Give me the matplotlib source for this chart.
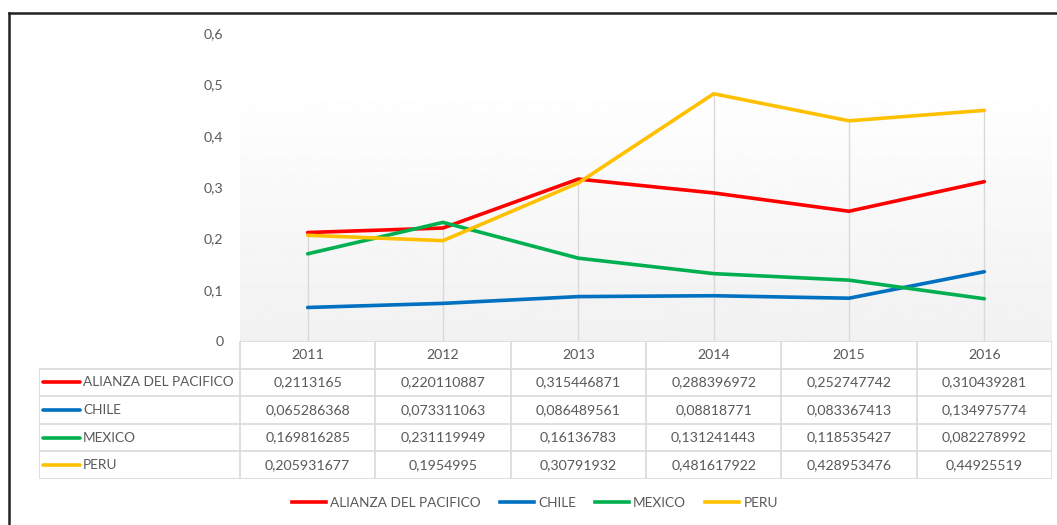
import matplotlib
matplotlib.use("Agg")
import matplotlib.pyplot as plt
from matplotlib.lines import Line2D
from matplotlib.ticker import FuncFormatter
import numpy as np

# ---------- data ----------
YEARS = ["2011", "2012", "2013", "2014", "2015", "2016"]
SERIES = ["ALIANZA DEL PACIFICO", "CHILE", "MEXICO", "PERU"]
ALIANZA = [0.2113165, 0.220110887, 0.315446871, 0.288396972, 0.252747742, 0.310439281]
CHILE = [0.065286368, 0.073311063, 0.086489561, 0.08818771, 0.083367413, 0.134975774]
MEXICO = [0.169816285, 0.231119949, 0.16136783, 0.131241443, 0.118535427, 0.082278992]
PERU = [0.205931677, 0.1954995, 0.30791932, 0.481617922, 0.428953476, 0.44925519]
# cell text exactly as printed in the data table
ALIANZA_TXT = ["0,2113165", "0,220110887", "0,315446871", "0,288396972", "0,252747742", "0,310439281"]
CHILE_TXT = ["0,065286368", "0,073311063", "0,086489561", "0,08818771", "0,083367413", "0,134975774"]
MEXICO_TXT = ["0,169816285", "0,231119949", "0,16136783", "0,131241443", "0,118535427", "0,082278992"]
PERU_TXT = ["0,205931677", "0,1954995", "0,30791932", "0,481617922", "0,428953476", "0,44925519"]

COLORS = ["#ff0000", "#0070c0", "#00b050", "#ffc000"]
TEXT_C = "#595959"
GRID_C = "#d9d9d9"
FS = 9.8

plt.rcParams.update({
    "font.family": ["Lato", "DejaVu Sans"],
    "font.size": FS,
})

W, H = 1057, 525
fig = plt.figure(figsize=(W / 100, H / 100), dpi=100)


def fx(px):
    return px / W


def fy(py):
    return 1 - py / H


# ---------- main plot ----------
ax = fig.add_axes([fx(240), fy(341), fx(1052) - fx(240), fy(33) - fy(341)])
values = [ALIANZA, CHILE, MEXICO, PERU]
x = np.arange(len(YEARS))

# background gradient (white at top, light grey at bottom)
grad = np.concatenate([np.ones(40), np.linspace(1.0, 0.945, 216)]).reshape(-1, 1)
ax.imshow(grad, extent=(-0.5, 5.5, 0, 0.6), aspect="auto", cmap="gray",
          vmin=0, vmax=1, zorder=0, origin="upper")

# drop lines from highest series down to the axis
tops = np.max(np.array(values), axis=0)
ax.vlines(x, 0, tops, color=GRID_C, lw=1.0, zorder=1)

for vals, c, name in zip(values, COLORS, SERIES):
    ax.plot(x, vals, color=c, lw=2.6, solid_capstyle="round", zorder=3, label=name)

ax.set_xlim(-0.5, 5.5)
ax.set_ylim(0, 0.6)
ax.set_yticks(np.arange(0, 0.61, 0.1))
ax.yaxis.set_major_formatter(FuncFormatter(lambda v, _: "0" if abs(v) < 1e-9 else f"{v:.1f}".replace(".", ",")))
ax.tick_params(axis="y", length=0, pad=12, colors=TEXT_C, labelsize=FS + 0.4)
ax.set_xticks([])
for s in ax.spines.values():
    s.set_visible(False)

# ---------- data table ----------
tab = fig.add_axes([fx(39), fy(479), fx(1052) - fx(39), fy(341) - fy(479)])
label_w = (240 - 39) / ((1052 - 240) / 6)
x0 = -0.5 - label_w
tab.set_xlim(x0, 5.5)
tab.set_ylim(5, 0)
tab.axis("off")

# horizontal lines
tab.hlines(0, -0.5, 5.5, color=GRID_C, lw=1.2)
tab.hlines([1, 2, 3, 4, 5], x0, 5.5, color=GRID_C, lw=1.2)
# vertical lines
col_edges = np.arange(-0.5, 6.0, 1.0)
tab.vlines(col_edges, 0, 5, color=GRID_C, lw=1.2)
tab.vlines(x0, 1, 5, color=GRID_C, lw=1.2)

for i, yr in enumerate(YEARS):
    tab.text(i, 0.5, yr, ha="center", va="center", color=TEXT_C, fontsize=FS + 0.4)

rows_txt = [ALIANZA_TXT, CHILE_TXT, MEXICO_TXT, PERU_TXT]
for r, (name, c, txts) in enumerate(zip(SERIES, COLORS, rows_txt)):
    yy = r + 1.5
    tab.plot([x0 + 0.03, x0 + 0.3], [yy, yy], color=c, lw=2.6, solid_capstyle="round")
    tab.text(x0 + 0.325, yy, name, ha="left", va="center", color=TEXT_C, fontsize=FS)
    for i, t in enumerate(txts):
        tab.text(i, yy, t, ha="center", va="center", color=TEXT_C, fontsize=FS + 0.4)

# ---------- legend ----------
handles = [Line2D([], [], color=c, lw=2.6) for c in COLORS]
fig.legend(handles, SERIES, loc="center", bbox_to_anchor=(fx(535), fy(503)),
           ncol=4, frameon=False, handlelength=2.5, handletextpad=0.3,
           columnspacing=1.4, labelcolor=TEXT_C, fontsize=FS)

# ---------- frame of the chart object (top and left visible) ----------
fig.add_artist(Line2D([fx(9), 1.0], [fy(13), fy(13)], color="#222222", lw=1.8))
fig.add_artist(Line2D([fx(9), fx(9)], [fy(13), 0.0], color="#222222", lw=1.8))

fig.savefig("out.png", dpi=100)
